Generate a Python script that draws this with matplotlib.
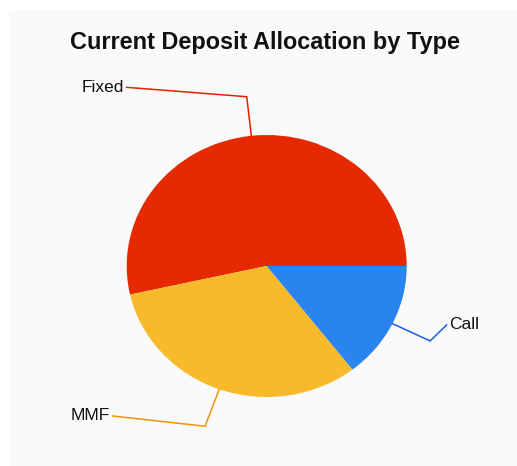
"""Pie chart: current deposit allocation by type."""

import matplotlib

matplotlib.use("Agg")
import matplotlib.pyplot as plt
import numpy as np
from matplotlib.patches import Rectangle

plt.rcParams["font.family"] = ["Liberation Sans", "DejaVu Sans"]

categories = ["Fixed", "MMF", "Call"]
shares = [53.5, 32.0, 14.5]
slice_colors = ["#e62900", "#f8ba2b", "#2a84f0"]
line_colors = ["#e81e00", "#f5900f", "#1d5ee6"]
# where each label text sits (pie axis units) and how it is anchored
label_pos = [(-1.02, 1.364), (-1.12, -1.145), (1.30, -0.45)]
label_ha = ["right", "right", "left"]

W, H = 517, 466
fig = plt.figure(figsize=(W / 100, H / 100), dpi=100)
fig.patch.set_facecolor("white")
fig.patches.append(Rectangle((9 / W, 0), 1 - 9 / W, 1 - 10 / H, transform=fig.transFigure,
                             facecolor="#fafafa", edgecolor="none", zorder=-10))

fig.text(265 / W, 1 - 42 / H, "Current Deposit Allocation by Type", ha="center", va="center",
         fontsize=16.9, fontweight="bold", color="#111111")

# pie box: 126..407 px wide, 135..397 px tall
ax = fig.add_axes([126.7 / W, (H - 397) / H, 280 / W, 262 / H])
wedges, _ = ax.pie(shares, colors=slice_colors, startangle=0, counterclock=True,
                   radius=1.0, wedgeprops={"linewidth": 0})
ax.set_aspect("auto")
ax.set_xlim(-1, 1)
ax.set_ylim(-1, 1)
ax.axis("off")

start = 0.0
total = sum(shares)
for name, share, lc, (lx, ly), ha in zip(categories, shares, line_colors, label_pos, label_ha):
    mid = np.deg2rad(start + share / total * 360 / 2)
    start += share / total * 360
    x0, y0 = np.cos(mid), np.sin(mid)
    x1, y1 = 1.3 * x0, 1.3 * y0
    lx_end = lx + (0.02 if ha == "right" else -0.015)
    ax.plot([x0, x1, lx_end], [y0, y1, ly], color=lc, lw=1.1, clip_on=False,
            solid_joinstyle="miter")
    ax.text(lx, ly, name, ha=ha, va="center", fontsize=12.5, color="#111111")

fig.savefig("out.png", dpi=100)
